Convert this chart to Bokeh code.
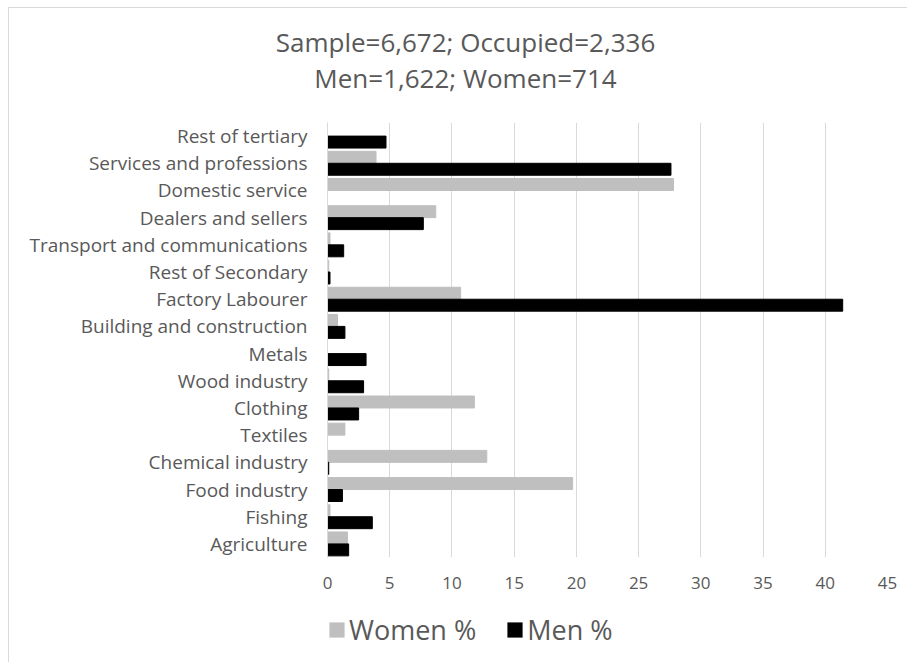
from bokeh.plotting import figure
from bokeh.layouts import column, row
from bokeh.models import (FactorRange, Range1d, SingleIntervalTicker, Label,
                          Legend, LegendItem, ColumnDataSource)
from bokeh.transform import dodge
from bokeh.embed import file_html
from bokeh.resources import INLINE

categories = ["Rest of tertiary", "Services and professions", "Domestic service",
              "Dealers and sellers", "Transport and communications", "Rest of Secondary",
              "Factory Labourer", "Building and construction", "Metals", "Wood industry",
              "Clothing", "Textiles", "Chemical industry", "Food industry", "Fishing",
              "Agriculture"]
women_pct = [0.0, 3.9, 27.8, 8.7, 0.2, 0.1, 10.7, 0.8, 0.0, 0.1, 11.8, 1.4, 12.8, 19.7, 0.2, 1.6]
men_pct = [4.7, 27.6, 0.0, 7.7, 1.3, 0.2, 41.4, 1.4, 3.1, 2.9, 2.5, 0.0, 0.1, 1.2, 3.6, 1.7]
title_lines = ["Sample=6,672; Occupied=2,336", "Men=1,622; Women=714"]
series_labels = ["Women %", "Men %"]
women_color = "#bfbfbf"
men_color = "#000000"

FONT = "Open Sans"
TXT = "#595959"
W = 898


def blank(height):
    f = figure(width=W, height=height, output_backend="svg", toolbar_location=None,
               x_range=Range1d(0, 1), y_range=Range1d(0, 1),
               min_border=0, min_border_left=0, min_border_right=0,
               min_border_top=0, min_border_bottom=0)
    f.axis.visible = False
    f.grid.visible = False
    f.outline_line_color = None
    return f


# ---- title strip
tf = blank(100)
for txt, yy in zip(title_lines, [67, 31]):
    tf.add_layout(Label(x=456, y=yy, x_units="screen", y_units="screen", text=txt,
                        text_align="center", text_baseline="middle", text_font=FONT,
                        text_font_size="26px", text_color=TXT))

# ---- main chart
source = ColumnDataSource(dict(cat=categories, women=women_pct, men=men_pct))
p = figure(width=W, height=492, output_backend="svg", toolbar_location=None,
           y_range=FactorRange(*categories[::-1], range_padding=0),
           x_range=Range1d(0, 45),
           min_border_left=318, min_border_right=20, min_border_top=14,
           min_border_bottom=43)
p.outline_line_color = None

p.hbar(y=dodge("cat", 0.22, range=p.y_range), right="women", left=0, height=0.44,
       source=source, fill_color=women_color, line_color=women_color)
p.hbar(y=dodge("cat", -0.22, range=p.y_range), right="men", left=0, height=0.44,
       source=source, fill_color=men_color, line_color=men_color)

p.xaxis.ticker = SingleIntervalTicker(interval=5)
p.xaxis.axis_line_color = None
p.xaxis.major_tick_line_color = None
p.xaxis.minor_tick_line_color = None
p.xaxis.major_tick_out = 0
p.xaxis.major_label_standoff = 15
p.xaxis.major_label_text_font = FONT
p.xaxis.major_label_text_font_size = "17px"
p.xaxis.major_label_text_color = TXT

p.yaxis.axis_line_color = "#d9d9d9"
p.yaxis.major_tick_line_color = None
p.yaxis.minor_tick_line_color = None
p.yaxis.major_tick_out = 0
p.yaxis.major_label_standoff = 20
p.yaxis.major_label_text_font = FONT
p.yaxis.major_label_text_font_size = "19px"
p.yaxis.major_label_text_color = TXT

p.xgrid.grid_line_color = "#d9d9d9"
p.ygrid.grid_line_color = None

# ---- legend strip (zero-size proxy bars only provide the legend swatches)
lf = blank(62)
lw = lf.hbar(y=[0.5], left=[0], right=[0], height=0,
             fill_color=women_color, line_color=None)
lm = lf.hbar(y=[0.5], left=[0], right=[0], height=0,
             fill_color=men_color, line_color=None)
legend = Legend(items=[LegendItem(label=series_labels[0], renderers=[lw]),
                       LegendItem(label=series_labels[1], renderers=[lm])],
                orientation="horizontal", location=(0, 14), padding=0, margin=0,
                spacing=29, label_standoff=3, glyph_width=19, glyph_height=19,
                label_text_font=FONT, label_text_font_size="27px",
                label_text_color=TXT, label_height=27,
                background_fill_alpha=0, border_line_color=None)
lf.add_layout(legend, "center")

layout = column(row(tf, spacing=0), p, lf, spacing=0)
layout.styles = {"margin": "7px 0 0 8px",
                 "border-left": "1px solid #d9d9d9",
                 "border-top": "1px solid #d9d9d9"}

open("out.html", "w").write(file_html(layout, INLINE))
